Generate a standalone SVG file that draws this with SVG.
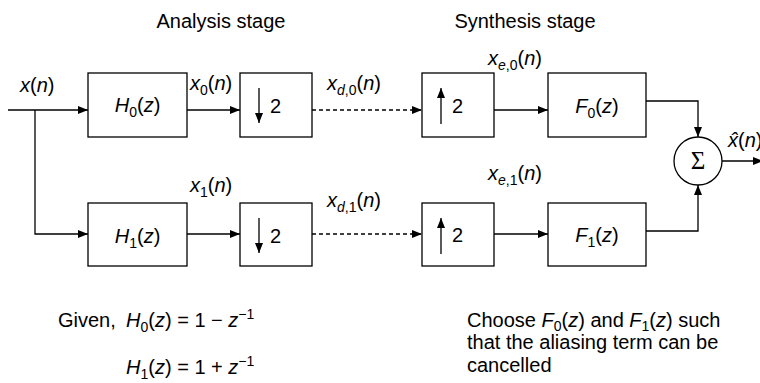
<svg xmlns="http://www.w3.org/2000/svg" width="760" height="383" viewBox="0 0 760 383">
<style>
text{font-family:"Liberation Sans",Arial,sans-serif;font-size:20px;fill:#000}
.i{font-style:italic}
.s{font-size:14px}
.box{fill:#fff;stroke:#000;stroke-width:1.3}
.ln{fill:none;stroke:#000;stroke-width:1.3}
.dash{stroke-dasharray:4 3}
</style>
<defs>
<marker id="ah" viewBox="0 0 10 8" refX="10" refY="4" markerWidth="10" markerHeight="8" markerUnits="userSpaceOnUse" orient="auto"><path d="M0,0 L10,4 L0,8 z" fill="#000"/></marker>
</defs>
<text x="221" y="28" text-anchor="middle">Analysis stage</text>
<text x="525" y="28" text-anchor="middle">Synthesis stage</text>

<g id="connectors">
<path class="ln" d="M8,110 H88" marker-end="url(#ah)"/>
<path class="ln" d="M35,110 V234 H88" marker-end="url(#ah)"/>
<path class="ln" d="M187,110 H240" marker-end="url(#ah)"/>
<path class="ln" d="M187,234 H240" marker-end="url(#ah)"/>
<path class="ln dash" d="M312,110 H422" marker-end="url(#ah)"/>
<path class="ln dash" d="M312,234 H422" marker-end="url(#ah)"/>
<path class="ln" d="M494,110 H548" marker-end="url(#ah)"/>
<path class="ln" d="M494,234 H548" marker-end="url(#ah)"/>
<path class="ln" d="M646,101 H698 V137" marker-end="url(#ah)"/>
<path class="ln" d="M646,231 H698 V185" marker-end="url(#ah)"/>
<path class="ln" d="M722,161 H763" marker-end="url(#ah)"/>
</g>

<g id="labels">
<text x="20" y="92"><tspan class="i">x</tspan>(<tspan class="i">n</tspan>)</text>
<text x="190" y="90"><tspan class="i">x</tspan><tspan class="s" dy="5">0</tspan><tspan dy="-5">(</tspan><tspan class="i">n</tspan>)</text>
<text x="190" y="192"><tspan class="i">x</tspan><tspan class="s" dy="5">1</tspan><tspan dy="-5">(</tspan><tspan class="i">n</tspan>)</text>
<text x="327" y="90"><tspan class="i">x</tspan><tspan class="s i" dy="5">d</tspan><tspan class="s">,0</tspan><tspan dy="-5">(</tspan><tspan class="i">n</tspan>)</text>
<text x="327" y="207"><tspan class="i">x</tspan><tspan class="s i" dy="5">d</tspan><tspan class="s">,1</tspan><tspan dy="-5">(</tspan><tspan class="i">n</tspan>)</text>
<text x="488" y="65"><tspan class="i">x</tspan><tspan class="s i" dy="5">e</tspan><tspan class="s">,0</tspan><tspan dy="-5">(</tspan><tspan class="i">n</tspan>)</text>
<text x="488" y="180"><tspan class="i">x</tspan><tspan class="s i" dy="5">e</tspan><tspan class="s">,1</tspan><tspan dy="-5">(</tspan><tspan class="i">n</tspan>)</text>
<text x="728" y="147"><tspan class="i">x̂</tspan>(<tspan class="i">n</tspan>)</text>
</g>

<g id="H0">
<rect class="box" x="88" y="73" width="99" height="64"/>
<text x="137.5" y="112" text-anchor="middle"><tspan class="i">H</tspan><tspan class="s" dy="5">0</tspan><tspan dy="-5">(</tspan><tspan class="i">z</tspan>)</text>
</g>
<g id="H1">
<rect class="box" x="88" y="203" width="99" height="63"/>
<text x="137.5" y="243" text-anchor="middle"><tspan class="i">H</tspan><tspan class="s" dy="5">1</tspan><tspan dy="-5">(</tspan><tspan class="i">z</tspan>)</text>
</g>
<g id="down0">
<rect class="box" x="240" y="73" width="72" height="64"/>
<path class="ln" d="M259,88 V123" marker-end="url(#ah)"/>
<text x="270" y="113">2</text>
</g>
<g id="down1">
<rect class="box" x="240" y="203" width="72" height="63"/>
<path class="ln" d="M259,218 V253" marker-end="url(#ah)"/>
<text x="270" y="243">2</text>
</g>
<g id="up0">
<rect class="box" x="422" y="73" width="72" height="64"/>
<path class="ln" d="M441,124 V88" marker-end="url(#ah)"/>
<text x="452" y="113">2</text>
</g>
<g id="up1">
<rect class="box" x="422" y="203" width="72" height="63"/>
<path class="ln" d="M441,254 V218" marker-end="url(#ah)"/>
<text x="452" y="242">2</text>
</g>
<g id="F0">
<rect class="box" x="548" y="73" width="98" height="64"/>
<text x="597" y="113" text-anchor="middle"><tspan class="i">F</tspan><tspan class="s" dy="5">0</tspan><tspan dy="-5">(</tspan><tspan class="i">z</tspan>)</text>
</g>
<g id="F1">
<rect class="box" x="548" y="203" width="98" height="63"/>
<text x="597" y="242" text-anchor="middle"><tspan class="i">F</tspan><tspan class="s" dy="5">1</tspan><tspan dy="-5">(</tspan><tspan class="i">z</tspan>)</text>
</g>
<g id="sum">
<circle class="box" cx="698" cy="161" r="24"/>
<text x="698" y="169" text-anchor="middle" style="font-family:'Liberation Serif','Times New Roman',serif;font-size:25px">Σ</text>
</g>

<g id="notes">
<text x="58" y="327">Given,</text>
<text x="126" y="327"><tspan class="i">H</tspan><tspan class="s" dy="5">0</tspan><tspan dy="-5">(</tspan><tspan class="i">z</tspan>) = 1 − <tspan class="i">z</tspan><tspan class="s" dy="-8">−1</tspan></text>
<text x="126" y="374"><tspan class="i">H</tspan><tspan class="s" dy="5">1</tspan><tspan dy="-5">(</tspan><tspan class="i">z</tspan>) = 1 + <tspan class="i">z</tspan><tspan class="s" dy="-8">−1</tspan></text>
<text x="467" y="327">Choose <tspan class="i">F</tspan><tspan class="s" dy="4">0</tspan><tspan dy="-4">(</tspan><tspan class="i">z</tspan>) and <tspan class="i">F</tspan><tspan class="s" dy="4">1</tspan><tspan dy="-4">(</tspan><tspan class="i">z</tspan>) such</text>
<text x="467" y="349">that the aliasing term can be</text>
<text x="467" y="372">cancelled</text>
</g>
</svg>
